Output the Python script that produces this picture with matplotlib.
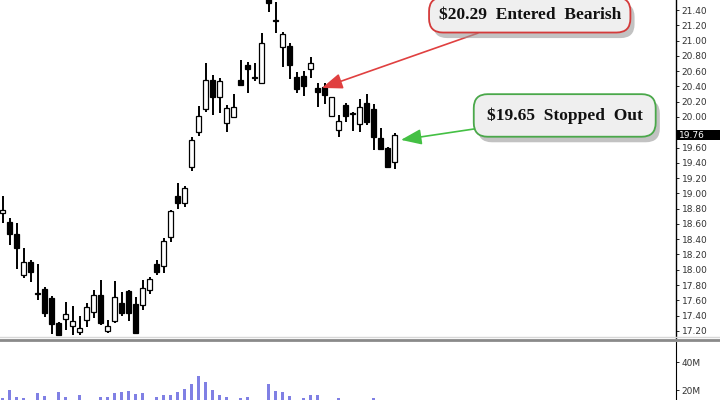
import matplotlib
matplotlib.use("Agg")
import matplotlib.pyplot as plt
import matplotlib.patheffects as pe
from matplotlib.patches import Rectangle
from matplotlib.lines import Line2D
from matplotlib.transforms import blended_transform_factory
import numpy as np

opens = [18.74, 18.62, 18.47, 17.93, 18.10, 17.69, 17.75, 17.63, 17.30, 17.36,
         17.26, 17.19, 17.34, 17.45, 17.67, 17.20, 17.33, 17.56, 17.72, 17.55,
         17.54, 17.73, 18.07, 18.05, 18.43, 18.97, 18.87, 19.35, 19.80, 20.10,
         20.48, 20.26, 19.92, 20.00, 20.48, 20.68, 20.52, 20.44, 21.56, 21.27,
         20.92, 20.93, 20.52, 20.54, 20.63, 20.38, 20.39, 20.01, 19.83, 20.16,
         20.05, 19.91, 20.18, 20.10, 19.72, 19.59, 19.41]
highs = [18.97, 18.68, 18.61, 18.28, 18.13, 18.07, 17.77, 17.66, 17.32, 17.58,
         17.53, 17.39, 17.56, 17.73, 17.87, 17.34, 17.85, 17.71, 17.73, 17.64,
         17.87, 17.91, 18.13, 18.42, 18.78, 19.14, 19.10, 19.74, 20.14, 20.71,
         20.55, 20.51, 20.16, 20.30, 20.75, 20.72, 20.71, 21.10, 21.62, 21.50,
         21.11, 20.97, 20.59, 20.60, 20.78, 20.44, 20.44, 20.26, 20.03, 20.18,
         20.06, 20.23, 20.30, 20.17, 19.85, 19.61, 19.79]
lows = [18.61, 18.32, 18.01, 17.89, 17.84, 17.60, 17.38, 17.16, 17.15, 17.21,
        17.15, 17.15, 17.25, 17.37, 17.28, 17.17, 17.30, 17.39, 17.33, 17.16,
        17.47, 17.68, 17.93, 17.96, 18.36, 18.80, 18.82, 19.29, 19.75, 20.06,
        20.03, 20.05, 19.80, 20.00, 20.42, 20.31, 20.47, 20.44, 21.37, 21.10,
        20.65, 20.50, 20.31, 20.27, 20.51, 20.13, 20.17, 20.01, 19.74, 19.93,
        19.82, 19.80, 19.89, 19.57, 19.58, 19.33, 19.32]
closes = [18.78, 18.47, 18.28, 18.10, 17.97, 17.68, 17.43, 17.29, 17.15, 17.42,
          17.33, 17.24, 17.51, 17.67, 17.30, 17.26, 17.64, 17.43, 17.43, 17.17,
          17.76, 17.88, 17.97, 18.38, 18.77, 18.87, 19.07, 19.70, 20.01, 20.48,
          20.26, 20.47, 20.12, 20.13, 20.42, 20.63, 20.51, 20.97, 21.49, 21.26,
          21.09, 20.68, 20.37, 20.41, 20.71, 20.33, 20.29, 20.26, 19.95, 20.01,
          20.04, 20.13, 19.93, 19.74, 19.58, 19.35, 19.76]
volumes = [14.5, 20.0, 15.2, 14.3, 12, 17.9, 15.9, 12, 18.8, 15.2,
           11, 16.4, 12, 12, 15.0, 15.2, 17.9, 18.8, 19.3, 17.1,
           17.9, 12, 15.2, 16.4, 16.4, 18.4, 20.7, 24.1, 30.0, 25.7,
           20.0, 16.4, 15.2, 12, 14.1, 15.2, 12, 12, 24.3, 19.3,
           18.8, 15.7, 12, 14.1, 16.4, 16.4, 12, 12, 14.1, 12,
           12, 12, 12, 14.1, 12, 12, 12]  # millions
price_ticks = [17.2 + 0.2 * k for k in range(22)]
vol_ticks = [20, 40]
last_price = "19.76"
entry_text = "$20.29  Entered  Bearish"
exit_text = "$19.65  Stopped  Out"

o = np.array(opens)
c = np.array(closes)
x = np.arange(len(o))

fig = plt.figure(figsize=(7.2, 4.0), dpi=100)
ax = fig.add_axes([0, 62 / 400, 676 / 720, 338 / 400])
axv = fig.add_axes([0, 0, 676 / 720, 58 / 400])

# candles
ax.vlines(x, lows, highs, color="black", linewidth=1.4, zorder=2)
bottom = np.minimum(o, c)
height = np.maximum(np.abs(c - o), 0.004)
colors = np.where(c >= o, "white", "black")
ax.bar(x, height, bottom=bottom, width=0.66, color=colors,
       edgecolor="black", linewidth=0.9, zorder=3)

ax.set_xlim(-0.39, 96.2)
ax.set_ylim(17.107, 21.531)
ax.set_yticks(price_ticks)
# 19.80 sits under the last-price tag
labels = ["" if abs(t - 19.8) < 1e-6 else "%.2f" % t for t in price_ticks]
ax.set_yticklabels(labels)
ax.yaxis.tick_right()
ax.tick_params(axis="y", labelsize=6.5, labelcolor="#333333", length=2,
               pad=2, width=0.6)
ax.set_xticks([])
for s in ["left", "top", "bottom"]:
    ax.spines[s].set_visible(False)
ax.spines["right"].set_linewidth(1.0)

# last price tag
tr = blended_transform_factory(ax.transAxes, ax.transData)
ax.add_patch(Rectangle((1.0, 19.695), 0.07, 0.13, transform=tr,
                       facecolor="black", edgecolor="none",
                       clip_on=False, zorder=6))
ax.text(1.004, 19.757, last_price, transform=tr, color="white", fontsize=6.5,
        va="center", ha="left", zorder=7, clip_on=False)

# volume
axv.bar(x, volumes, width=0.36, color="#8080e4", zorder=2)
axv.set_xlim(-0.39, 96.2)
axv.set_ylim(12.86, 54.3)
axv.set_yticks(vol_ticks)
axv.set_yticklabels(["%dM" % v for v in vol_ticks])
axv.yaxis.tick_right()
axv.tick_params(axis="y", labelsize=6.5, labelcolor="#333333", length=2,
                pad=2, width=0.6)
axv.set_xticks([])
for s in ["left", "top", "bottom"]:
    axv.spines[s].set_visible(False)

# panel separator
fig.add_artist(Line2D([0, 1], [1 - 336.5 / 400] * 2, color="#d8d8d8",
                      linewidth=1.0))
fig.add_artist(Line2D([0, 1], [1 - 340 / 400] * 2, color="#8a8a8a",
                      linewidth=2.0))


def callout(text, xy, xytext, edge, arrow_color, pad):
    ann = ax.annotate(
        text, xy=xy, xytext=xytext, ha="center", va="center",
        fontsize=12.5, fontweight="bold", family="Liberation Serif",
        color="#111111",
        bbox=dict(boxstyle="round,pad=%.2f,rounding_size=0.8" % pad,
                  facecolor="#efefef", edgecolor=edge, linewidth=1.3),
        arrowprops=dict(arrowstyle="-|>,head_length=1.0,head_width=0.38",
                        color=arrow_color, linewidth=1.2,
                        shrinkA=0, shrinkB=0),
        annotation_clip=False, zorder=9)
    ann.get_bbox_patch().set_path_effects([
        pe.SimplePatchShadow(offset=(3, -4), shadow_rgbFace="#9a9a9a",
                             alpha=0.6),
        pe.Normal()])
    return ann


callout(entry_text, (45.6, 20.38), (75.3, 21.335), "#d43a3a", "#e04040", 0.55)
callout(exit_text, (56.9, 19.70), (80.3, 20.02), "#4aa84a", "#44c044", 0.75)

fig.savefig("out.png", dpi=100)
